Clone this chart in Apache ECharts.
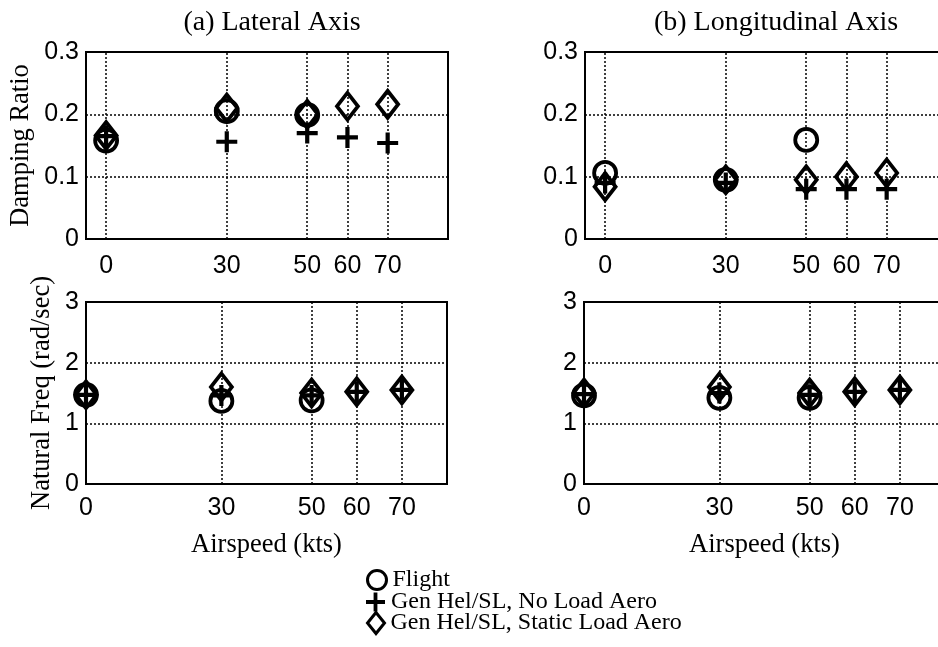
<!DOCTYPE html>
<html>
<head>
<meta charset="utf-8">
<script src="https://cdn.jsdelivr.net/npm/echarts@6/dist/echarts.min.js"></script>
<style>html,body{margin:0;padding:0;background:#fff}#c{width:938px;height:647px}</style>
</head>
<body>
<div id="c"></div>
<script>
// ---- data ----
const airspeeds = [0, 30, 50, 60, 70];
const xTicks = [0, 30, 50, 60, 70];
const seriesNames = ['Flight', 'Gen Hel/SL, No Load Aero', 'Gen Hel/SL, Static Load Aero'];
const panelTitles = ['(a) Lateral Axis', '(b) Longitudinal Axis'];
const dampTicks = [0, 0.1, 0.2, 0.3];
const freqTicks = [0, 1, 2, 3];

// Lateral damping ratio
const latDampFlight = [0.158, 0.205, 0.199, null, null];
const latDampNoLoad = [0.165, 0.156, 0.170, 0.163, 0.154];
const latDampStatic = [0.166, 0.210, 0.200, 0.213, 0.216];
// Longitudinal damping ratio
const lonDampFlight = [0.106, 0.095, 0.159, null, null];
const lonDampNoLoad = [0.090, 0.090, 0.080, 0.080, 0.080];
const lonDampStatic = [0.084, 0.095, 0.095, 0.100, 0.106];
// Lateral natural frequency
const latFreqFlight = [1.47, 1.37, 1.38, null, null];
const latFreqNoLoad = [1.47, 1.46, 1.46, 1.52, 1.55];
const latFreqStatic = [1.47, 1.60, 1.50, 1.52, 1.55];
// Longitudinal natural frequency
const lonFreqFlight = [1.46, 1.42, 1.42, null, null];
const lonFreqNoLoad = [1.48, 1.50, 1.47, 1.52, 1.55];
const lonFreqStatic = [1.50, 1.60, 1.50, 1.52, 1.55];

// ---- chart ----
const SANS = 'Liberation Sans, Arial, sans-serif';
const SERIF = 'Liberation Serif, Times New Roman, serif';
const plusPath = 'path://M4,0H6V4H10V6H6V10H4V6H0V4H4Z';

const grids = [
  {left: 86, top: 52, width: 362, height: 187},
  {left: 585, top: 52, width: 362, height: 187},
  {left: 86, top: 302, width: 361, height: 182},
  {left: 584, top: 302, width: 361, height: 182}
];

const panelData = [
  [latDampFlight, latDampNoLoad, latDampStatic],
  [lonDampFlight, lonDampNoLoad, lonDampStatic],
  [latFreqFlight, latFreqNoLoad, latFreqStatic],
  [lonFreqFlight, lonFreqNoLoad, lonFreqStatic]
];

const xAxes = grids.map((g, i) => {
  const top = i < 2;
  return {
    type: 'value', gridIndex: i,
    min: top ? -5 : 0, max: top ? 85 : 80,
    axisLine: {show: true, onZero: false, lineStyle: {color: '#000', width: 2}},
    axisTick: {show: false},
    splitLine: {show: false},
    axisLabel: {
      customValues: xTicks, color: '#000', fontFamily: SANS, fontSize: 25,
      margin: top ? 15 : 12
    },
    name: top ? '' : 'Airspeed (kts)',
    nameLocation: 'middle', nameGap: 48,
    nameTextStyle: {color: '#000', fontFamily: SERIF, fontSize: 26.5}
  };
});

const yAxes = grids.map((g, i) => {
  const top = i < 2;
  let name = '';
  if (i === 0) name = 'Damping Ratio';
  if (i === 2) name = 'Natural Freq (rad/sec)';
  return {
    type: 'value', gridIndex: i,
    min: 0, max: top ? 0.3 : 3, interval: top ? 0.1 : 1,
    axisLine: {show: true, onZero: false, lineStyle: {color: '#000', width: 2}},
    axisTick: {show: false},
    splitLine: {show: true, lineStyle: {color: '#000', width: 1.5, type: [2, 2]}},
    axisLabel: {color: '#000', fontFamily: SANS, fontSize: 25, margin: 7},
    name: name, nameLocation: 'middle', nameGap: i === 0 ? 51 : 30,
    nameTextStyle: {color: '#000', fontFamily: SERIF, fontSize: 26.5}
  };
});

const symbolDefs = [
  {symbol: 'circle', size: 22, fill: 'rgba(0,0,0,0)', border: 3.8},
  {symbol: plusPath, size: 21, fill: '#000', border: 0},
  {symbol: 'diamond', size: [21, 27], fill: 'rgba(0,0,0,0)', border: 3.8}
];

const series = [];
panelData.forEach((sets, gi) => {
  sets.forEach((vals, si) => {
    const sd = symbolDefs[si];
    const s = {
      name: seriesNames[si], type: 'scatter',
      xAxisIndex: gi, yAxisIndex: gi,
      symbol: sd.symbol, symbolSize: sd.size,
      itemStyle: {color: sd.fill, borderColor: '#000', borderWidth: sd.border, opacity: 1},
      data: airspeeds.map((x, k) => vals[k] == null ? null : [x, vals[k]]).filter(d => d),
      z: 3 + si
    };
    if (si === 0) {
      s.markLine = {
        silent: true, symbol: 'none', label: {show: false},
        lineStyle: {color: '#000', width: 1.5, type: [2, 2]},
        data: xTicks.map(v => ({xAxis: v}))
      };
    }
    series.push(s);
  });
});

const legendTops = [563, 585, 606];
const legends = seriesNames.map((n, i) => ({
  orient: 'vertical', left: 361, top: legendTops[i],
  itemWidth: i === 2 ? 17 : 19, itemHeight: i === 2 ? 21 : 19, itemGap: 0,
  data: [n],
  selectedMode: false,
  itemStyle: {borderWidth: i === 1 ? 0 : 3},
  textStyle: {fontFamily: SERIF, fontSize: 24, color: '#000', padding: [0, 0, 0, 1]}
}));

const option = {
  backgroundColor: '#fff',
  animation: false,
  title: [
    {text: panelTitles[0], left: 267, top: 4, textAlign: 'center',
     textStyle: {fontFamily: SERIF, fontSize: 28, fontWeight: 'normal', color: '#000'}},
    {text: panelTitles[1], left: 771, top: 4, textAlign: 'center',
     textStyle: {fontFamily: SERIF, fontSize: 28, fontWeight: 'normal', color: '#000'}}
  ],
  grid: grids.map(g => Object.assign({show: true, borderColor: '#000', borderWidth: 2,
    backgroundColor: 'transparent', outerBoundsMode: 'none', containLabel: false}, g)),
  xAxis: xAxes,
  yAxis: yAxes,
  legend: legends,
  series: series
};

const chart = echarts.init(document.getElementById('c'), null, {renderer: 'canvas'});
chart.setOption(option);
</script>
</body>
</html>
